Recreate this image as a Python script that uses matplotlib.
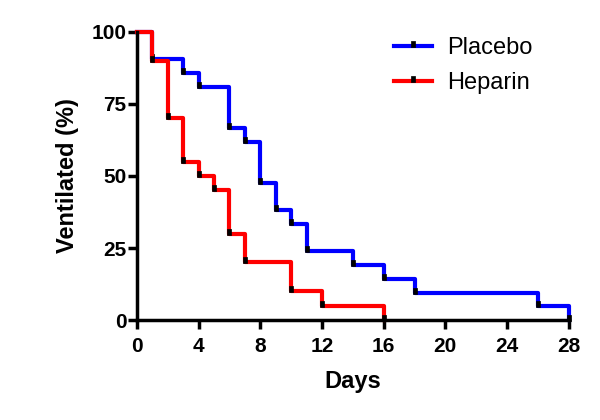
import matplotlib
matplotlib.use('Agg')
import matplotlib.pyplot as plt
from matplotlib.path import Path

plt.rcParams['font.family'] = ['Liberation Sans', 'DejaVu Sans']

# Kaplan-Meier style step data (percent still ventilated)
placebo_days = [0, 1, 3, 4, 6, 7, 8, 9, 10, 11, 14, 16, 18, 26, 28]
placebo_pct = [100, 90.5, 85.7, 81.0, 66.7, 61.9, 47.6, 38.1, 33.3, 23.8, 19.0, 14.3, 9.5, 4.8, 0]

heparin_days = [0, 1, 2, 3, 4, 5, 6, 7, 10, 12, 16]
heparin_pct = [100, 90, 70, 55, 50, 45, 30, 20, 10, 5, 0]

x_ticks = [0, 4, 8, 12, 16, 20, 24, 28]
y_ticks = [0, 25, 50, 75, 100]

# small black bar marker sitting on the step corner
tick_mark = Path([(-0.35, -0.2), (0.35, -0.2), (0.35, 1), (-0.35, 1), (-0.35, -0.2)],
                 [Path.MOVETO, Path.LINETO, Path.LINETO, Path.LINETO, Path.CLOSEPOLY])

fig = plt.figure(figsize=(6, 4.2), dpi=100)
ax = fig.add_axes([0.228, 0.238, 0.72, 0.686])

ax.plot(placebo_days, placebo_pct, drawstyle='steps-post', color='#0000FF', lw=3,
        marker=tick_mark, markersize=7.2, mfc='k', mec='k', mew=0.5,
        markevery=slice(1, None), clip_on=False, label='Placebo', zorder=3)
ax.plot(heparin_days, heparin_pct, drawstyle='steps-post', color='#FF0000', lw=3,
        marker=tick_mark, markersize=7.2, mfc='k', mec='k', mew=0.5,
        markevery=slice(1, None), clip_on=False, label='Heparin', zorder=4)

ax.set_xlim(0, 28)
ax.set_ylim(0, 100)
ax.set_xticks(x_ticks)
ax.set_yticks(y_ticks)

for s in ['top', 'right']:
    ax.spines[s].set_visible(False)
for s in ['left', 'bottom']:
    ax.spines[s].set_linewidth(2.5)
    ax.spines[s].set_zorder(5)

ax.tick_params(width=2.5, length=6.5, labelsize=15)
ax.tick_params(axis='y', pad=1)
ax.tick_params(axis='x', pad=6)
for lab in ax.get_xticklabels() + ax.get_yticklabels():
    lab.set_fontweight('bold')

ax.set_xlabel('Days', fontsize=17, fontweight='bold', labelpad=10)
ax.set_ylabel('Ventilated (%)', fontsize=17, fontweight='bold', labelpad=9)

ax.legend(loc='upper right', bbox_to_anchor=(0.965, 1.055), frameon=False, fontsize=17,
          handlelength=1.6, handletextpad=0.65, labelspacing=0.55)

fig.savefig('out.png', dpi=100)
